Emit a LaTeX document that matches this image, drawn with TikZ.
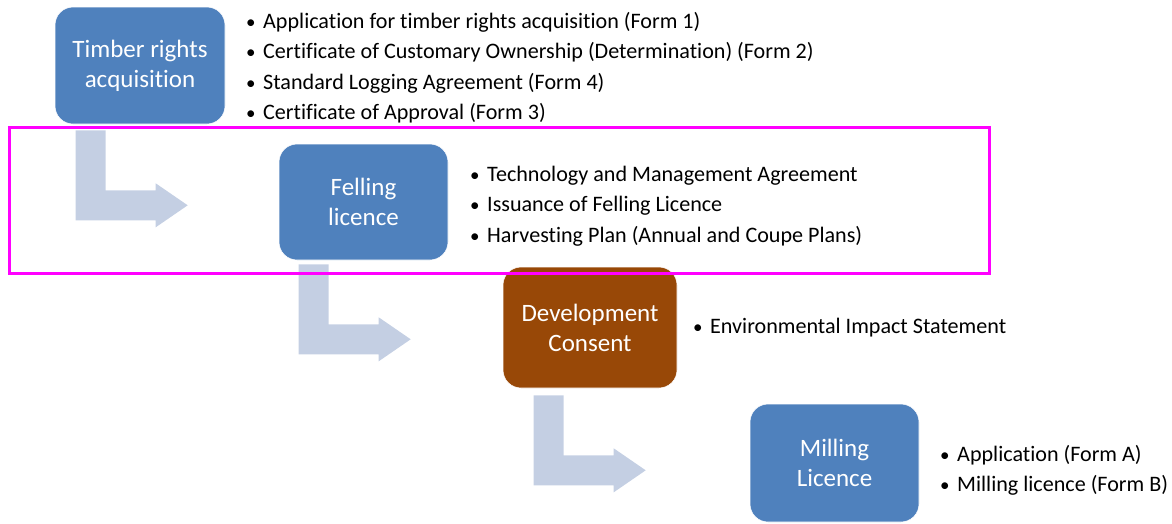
\documentclass[tikz,border=0pt]{standalone}
\usepackage{fontspec}
\setmainfont{Carlito}[Ligatures=NoCommon]
\usetikzlibrary{calc}
\definecolor{boxblue}{RGB}{79,129,189}
\definecolor{boxbrown}{RGB}{152,72,7}
\definecolor{arrowgray}{RGB}{196,207,227}
\definecolor{hlmagenta}{RGB}{255,0,255}
\begin{document}
\begin{tikzpicture}[x=1pt,y=-1pt,
  stage/.style={draw=white, line width=0.6pt, rounded corners=18pt, text=white,
    align=center, inner sep=0pt, font=\fontsize{25}{30}\selectfont},
  item/.style={anchor=base west, inner sep=0pt, text=black, font=\fontsize{22.1}{26}\selectfont},
  bentarrow/.pic={\fill[arrowgray] (0,0) -- (30,0) -- (30,60) -- (80,60) -- (80,53)
      -- (112,75) -- (80,97) -- (80,90) -- (0,90) -- cycle;}]
\useasboundingbox (0,0) rectangle (1172,523);

% stage boxes
\node[stage, fill=boxblue, minimum width=170, minimum height=117] (t1) at (140,65.5) {Timber rights\\acquisition};
\node[stage, fill=boxblue, minimum width=169, minimum height=116] (t2) at (363.5,202) {Felling\\licence};
\node[stage, fill=boxbrown, minimum width=174, minimum height=121] (t3) at (590,327.5) {Development\\Consent};
\node[stage, fill=boxblue, minimum width=169, minimum height=118] (t4) at (834.5,463) {Milling\\Licence};

% bent arrows
\pic at ($(t1.south west)+(21,6)$) {bentarrow};
\pic at ($(t2.south west)+(20,4)$) {bentarrow};
\pic at ($(t3.south west)+(31,7)$) {bentarrow};

% bullet lists
\newcommand{\bul}{\makebox[17pt][l]{\fontsize{19}{19}\selectfont •}}
\node[item] (a1) at (246,28.3) {\bul Application for timber rights acquisition (Form 1)};
\node[item] (a2) at (246,58.6) {\bul Certificate of Customary Ownership (Determination) (Form 2)};
\node[item] (a3) at (246,89) {\bul Standard Logging Agreement (Form 4)};
\node[item] (a4) at (246,119) {\bul Certificate of Approval (Form 3)};

\node[item] (b1) at (470,181) {\bul Technology and Management Agreement};
\node[item] (b2) at (470,211) {\bul Issuance of Felling Licence};
\node[item] (b3) at (470,242) {\bul Harvesting Plan (Annual and Coupe Plans)};

\node[item] (c1) at (693,333) {\bul Environmental Impact Statement};

\node[item] (d1) at (940,461) {\bul Application (Form A)};
\node[item] (d2) at (940,491) {\bul Milling licence (Form B)};

% highlight frame
\node[draw=hlmagenta, line width=3pt, minimum width=980, minimum height=146, inner sep=0pt] (hl) at (499,200.5) {};
\end{tikzpicture}
\end{document}
